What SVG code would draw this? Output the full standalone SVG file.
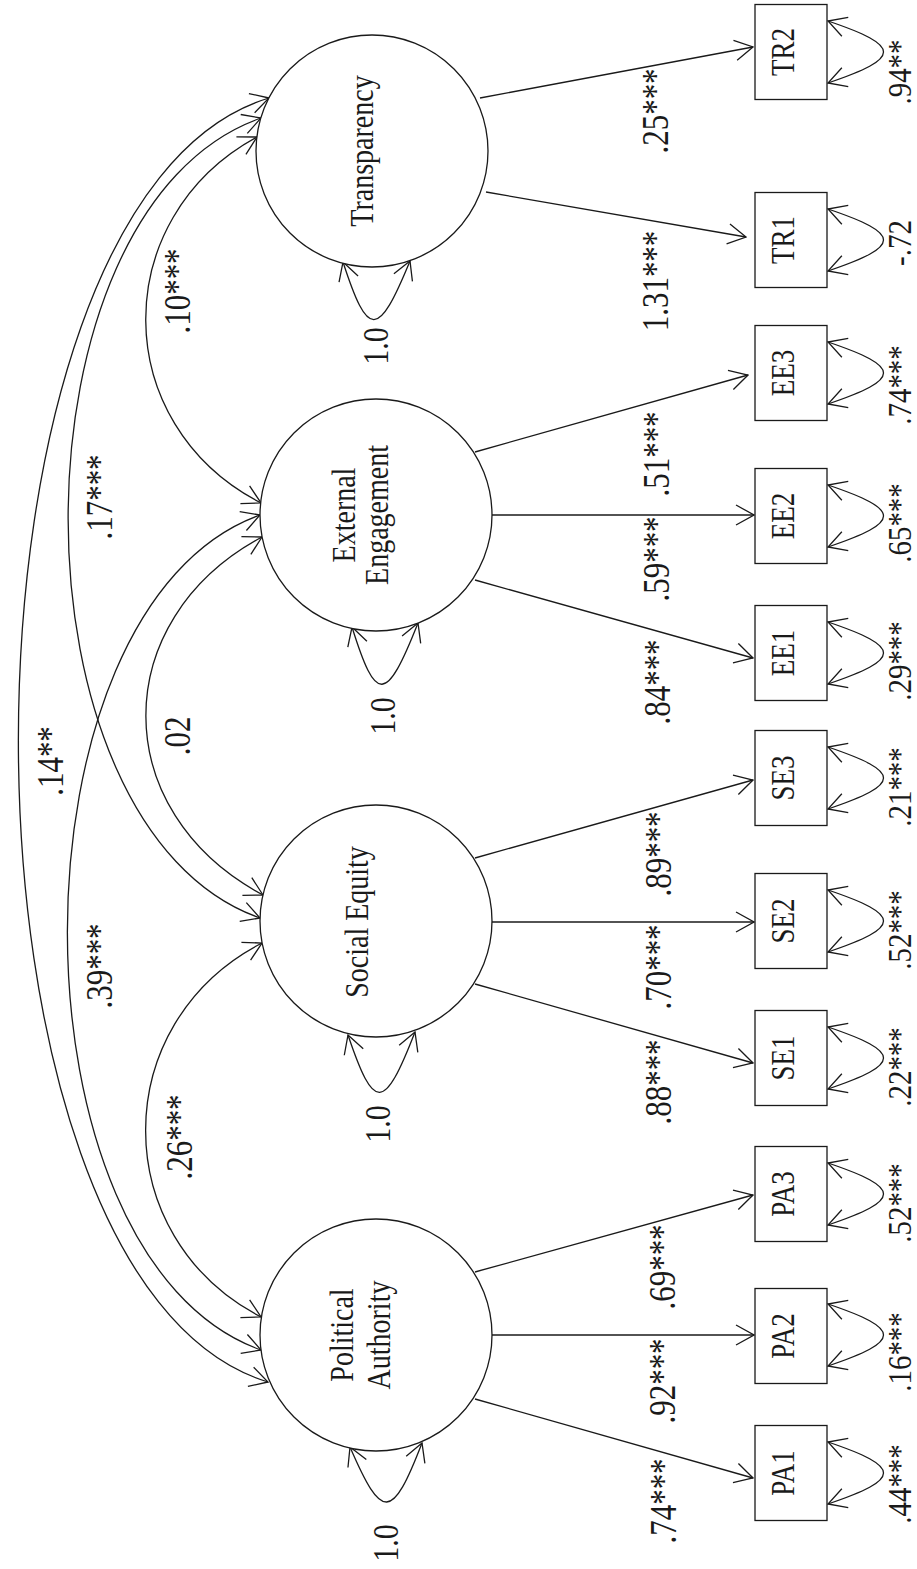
<svg xmlns="http://www.w3.org/2000/svg" width="917" height="1569" viewBox="0 0 917 1569">
<style>
.s{fill:none;stroke:#1a1a1a;stroke-width:1.3}
.nd{fill:#fff;stroke:#1a1a1a;stroke-width:1.3}
text{font-family:"Liberation Serif","Times New Roman",serif;fill:#1a1a1a;text-anchor:middle}
.lab{font-size:28px}
.bx{font-size:27px}
.num{font-size:31px}
.res{font-size:29px}
.one{font-size:30px}
</style>
<defs>
<marker id="ah" viewBox="0 0 20 22" markerWidth="20" markerHeight="22" refX="19" refY="11" orient="auto-start-reverse" markerUnits="userSpaceOnUse">
<path d="M1,1 L19,11 L1,21" fill="none" stroke="#1a1a1a" stroke-width="1.3"/>
</marker>
</defs>
<rect width="917" height="1569" fill="#fff"/>

<g id="connectors">
<!-- covariances -->
<path class="s" d="M257,137 C108,218 108,424 261,503" marker-start="url(#ah)" marker-end="url(#ah)"/>
<path class="s" d="M261,118 C4,208 4,828 260,918" marker-start="url(#ah)" marker-end="url(#ah)"/>
<path class="s" d="M269,98 C-65,198 -65,1282 268,1382" marker-start="url(#ah)" marker-end="url(#ah)"/>
<path class="s" d="M262,537 C107,620 107,812 263,895" marker-start="url(#ah)" marker-end="url(#ah)"/>
<path class="s" d="M260,515 C3,607 3,1258 261,1350" marker-start="url(#ah)" marker-end="url(#ah)"/>
<path class="s" d="M262,943 C107,1023 107,1237 261,1317" marker-start="url(#ah)" marker-end="url(#ah)"/>
<!-- latent variances -->
<path class="s" d="M343,262 C368,339 378,339 410,261" marker-start="url(#ah)" marker-end="url(#ah)"/>
<path class="s" d="M352,627 C376,704 386,704 418,623" marker-start="url(#ah)" marker-end="url(#ah)"/>
<path class="s" d="M348,1035 C374,1112 384,1112 415,1032" marker-start="url(#ah)" marker-end="url(#ah)"/>
<path class="s" d="M350,1447 C382,1521 392,1521 422,1443" marker-start="url(#ah)" marker-end="url(#ah)"/>
<!-- loadings -->
<path class="s" d="M480,98 L753,47" marker-end="url(#ah)"/>
<path class="s" d="M486,192 L746,237" marker-end="url(#ah)"/>
<path class="s" d="M475,452 L748,375" marker-end="url(#ah)"/>
<path class="s" d="M492,515 L754,515" marker-end="url(#ah)"/>
<path class="s" d="M475,580 L753,658" marker-end="url(#ah)"/>
<path class="s" d="M475,858 L753,780" marker-end="url(#ah)"/>
<path class="s" d="M492,922 L754,922" marker-end="url(#ah)"/>
<path class="s" d="M475,984 L753,1063" marker-end="url(#ah)"/>
<path class="s" d="M475,1272 L753,1195" marker-end="url(#ah)"/>
<path class="s" d="M492,1335 L754,1335" marker-end="url(#ah)"/>
<path class="s" d="M475,1399 L753,1478" marker-end="url(#ah)"/>
<!-- residual variances -->
<path class="s" d="M828,21 C902,46 902,58 828,83" marker-start="url(#ah)" marker-end="url(#ah)"/>
<path class="s" d="M828,209 C902,234 902,246 828,271" marker-start="url(#ah)" marker-end="url(#ah)"/>
<path class="s" d="M828,342 C902,367 902,379 828,404" marker-start="url(#ah)" marker-end="url(#ah)"/>
<path class="s" d="M828,485 C902,510 902,522 828,547" marker-start="url(#ah)" marker-end="url(#ah)"/>
<path class="s" d="M828,622 C902,647 902,659 828,684" marker-start="url(#ah)" marker-end="url(#ah)"/>
<path class="s" d="M828,747 C902,772 902,784 828,809" marker-start="url(#ah)" marker-end="url(#ah)"/>
<path class="s" d="M828,890 C902,915 902,927 828,952" marker-start="url(#ah)" marker-end="url(#ah)"/>
<path class="s" d="M828,1027 C902,1052 902,1064 828,1089" marker-start="url(#ah)" marker-end="url(#ah)"/>
<path class="s" d="M828,1163 C902,1188 902,1200 828,1225" marker-start="url(#ah)" marker-end="url(#ah)"/>
<path class="s" d="M828,1304 C902,1329 902,1341 828,1366" marker-start="url(#ah)" marker-end="url(#ah)"/>
<path class="s" d="M828,1442 C902,1467 902,1479 828,1504" marker-start="url(#ah)" marker-end="url(#ah)"/>
<!-- labels -->
<g>
<text class="num" transform="translate(676,1501) rotate(-90) scale(1,1.22)">.74***</text>
<text class="num" transform="translate(675,1381) rotate(-90) scale(1,1.22)">.92***</text>
<text class="num" transform="translate(675,1267) rotate(-90) scale(1,1.22)">.69***</text>
<text class="num" transform="translate(671,1082) rotate(-90) scale(1,1.22)">.88***</text>
<text class="num" transform="translate(671,967) rotate(-90) scale(1,1.22)">.70***</text>
<text class="num" transform="translate(671,854) rotate(-90) scale(1,1.22)">.89***</text>
<text class="num" transform="translate(670,682) rotate(-90) scale(1,1.22)">.84***</text>
<text class="num" transform="translate(669,559) rotate(-90) scale(1,1.22)">.59***</text>
<text class="num" transform="translate(669,454) rotate(-90) scale(1,1.22)">.51***</text>
<text class="num" transform="translate(668,281) rotate(-90) scale(1,1.22)">1.31***</text>
<text class="num" transform="translate(668,111) rotate(-90) scale(1,1.22)">.25***</text>

<text class="res" transform="translate(911,72) rotate(-90) scale(1,1.15)">.94**</text>
<text class="res" transform="translate(911,243) rotate(-90) scale(1,1.15)">-.72</text>
<text class="res" transform="translate(911,385) rotate(-90) scale(1,1.15)">.74***</text>
<text class="res" transform="translate(911,523) rotate(-90) scale(1,1.15)">.65***</text>
<text class="res" transform="translate(911,661) rotate(-90) scale(1,1.15)">.29***</text>
<text class="res" transform="translate(911,787) rotate(-90) scale(1,1.15)">.21***</text>
<text class="res" transform="translate(911,930) rotate(-90) scale(1,1.15)">.52***</text>
<text class="res" transform="translate(911,1067) rotate(-90) scale(1,1.15)">.22***</text>
<text class="res" transform="translate(911,1203) rotate(-90) scale(1,1.15)">.52***</text>
<text class="res" transform="translate(911,1352) rotate(-90) scale(1,1.15)">.16***</text>
<text class="res" transform="translate(911,1484) rotate(-90) scale(1,1.15)">.44***</text>

<text class="num" transform="translate(192,1137) rotate(-90) scale(1,1.22)">.26***</text>
<text class="num" transform="translate(112,966) rotate(-90) scale(1,1.22)">.39***</text>
<text class="num" transform="translate(190,736) rotate(-90) scale(1,1.22)">.02</text>
<text class="num" transform="translate(63,761) rotate(-90) scale(1,1.22)">.14**</text>
<text class="num" transform="translate(112,497) rotate(-90) scale(1,1.22)">.17***</text>
<text class="num" transform="translate(190,291) rotate(-90) scale(1,1.22)">.10***</text>

<text class="one" transform="translate(388,346) rotate(-90) scale(1,1.22)">1.0</text>
<text class="one" transform="translate(395,716) rotate(-90) scale(1,1.22)">1.0</text>
<text class="one" transform="translate(390,1124) rotate(-90) scale(1,1.22)">1.0</text>
<text class="one" transform="translate(398,1543) rotate(-90) scale(1,1.22)">1.0</text>
</g>
</g>

<g id="transparency">
<circle class="nd" cx="372" cy="151" r="116"/>
<text class="lab" transform="translate(373,151) rotate(-90) scale(1,1.22)">Transparency</text>
</g>
<g id="external-engagement">
<circle class="nd" cx="376" cy="515" r="116"/>
<text class="lab" transform="translate(355,515) rotate(-90) scale(1,1.22)">External</text>
<text class="lab" transform="translate(388,515) rotate(-90) scale(1,1.22)">Engagement</text>
</g>
<g id="social-equity">
<circle class="nd" cx="376" cy="921" r="116"/>
<text class="lab" transform="translate(368,922) rotate(-90) scale(1,1.22)">Social Equity</text>
</g>
<g id="political-authority">
<circle class="nd" cx="376" cy="1335" r="116"/>
<text class="lab" transform="translate(353,1335) rotate(-90) scale(1,1.22)">Political</text>
<text class="lab" transform="translate(390,1335) rotate(-90) scale(1,1.22)">Authority</text>
</g>

<g id="TR2"><rect class="nd" x="755" y="4.5" width="72" height="95"/><text class="bx" transform="translate(794,52) rotate(-90) scale(1,1.22)">TR2</text></g>
<g id="TR1"><rect class="nd" x="755" y="192.5" width="72" height="95"/><text class="bx" transform="translate(794,240) rotate(-90) scale(1,1.22)">TR1</text></g>
<g id="EE3"><rect class="nd" x="755" y="325.5" width="72" height="95"/><text class="bx" transform="translate(794,373) rotate(-90) scale(1,1.22)">EE3</text></g>
<g id="EE2"><rect class="nd" x="755" y="468.5" width="72" height="95"/><text class="bx" transform="translate(794,516) rotate(-90) scale(1,1.22)">EE2</text></g>
<g id="EE1"><rect class="nd" x="755" y="605.5" width="72" height="95"/><text class="bx" transform="translate(794,653) rotate(-90) scale(1,1.22)">EE1</text></g>
<g id="SE3"><rect class="nd" x="755" y="730.5" width="72" height="95"/><text class="bx" transform="translate(794,778) rotate(-90) scale(1,1.22)">SE3</text></g>
<g id="SE2"><rect class="nd" x="755" y="873.5" width="72" height="95"/><text class="bx" transform="translate(794,921) rotate(-90) scale(1,1.22)">SE2</text></g>
<g id="SE1"><rect class="nd" x="755" y="1010.5" width="72" height="95"/><text class="bx" transform="translate(794,1058) rotate(-90) scale(1,1.22)">SE1</text></g>
<g id="PA3"><rect class="nd" x="755" y="1146.5" width="72" height="95"/><text class="bx" transform="translate(794,1194) rotate(-90) scale(1,1.22)">PA3</text></g>
<g id="PA2"><rect class="nd" x="755" y="1288.5" width="72" height="95"/><text class="bx" transform="translate(794,1336) rotate(-90) scale(1,1.22)">PA2</text></g>
<g id="PA1"><rect class="nd" x="755" y="1425.5" width="72" height="95"/><text class="bx" transform="translate(794,1473) rotate(-90) scale(1,1.22)">PA1</text></g>
</svg>
